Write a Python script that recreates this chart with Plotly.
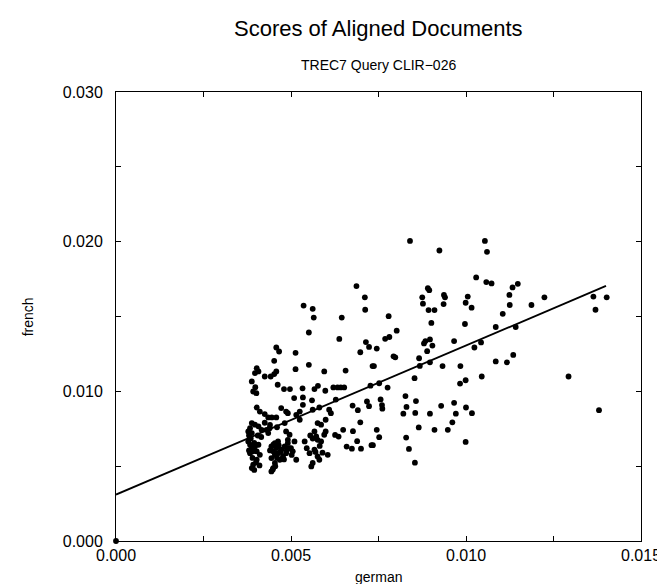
import plotly.graph_objects as go

# german / french scores (in units of 1e-3, converted below)
german_k = [
    # upper left region
    5.36, 5.62, 5.65, 6.45, 5.51, 6.38,
    4.58, 4.66, 4.52, 5.13, 5.13, 5.51, 5.95, 6.56,
    4.02, 4.07, 3.97, 4.25, 4.42, 4.52, 4.58, 3.88,
    3.98, 4.01, 4.62, 4.80, 4.97,
    5.33, 5.67, 5.77, 5.98, 6.21, 6.33, 6.42, 6.52,
    # middle dense region
    5.09, 5.34, 5.60, 5.34, 5.25, 5.15, 5.25,
    5.62, 5.81, 6.09, 6.14, 6.28,
    5.76, 5.86, 5.99,
    5.67, 5.72, 5.76, 5.86, 5.95, 5.99,
    6.26, 6.36, 6.49,
    5.39, 5.53, 5.67, 5.76, 5.81, 5.62, 5.58, 6.05, 5.15,
    5.55, 5.62, 5.82, 5.70, 5.90, 5.45,
    # left dense cluster
    3.92, 4.02, 4.11, 4.25, 4.35, 4.45, 4.58, 4.72, 4.86, 4.91,
    3.88, 3.97, 3.83, 3.78, 3.88, 4.07, 4.16, 4.30, 4.39, 4.35, 4.82, 4.86, 4.96, 4.91,
    3.78, 3.83, 3.88, 3.92, 3.83, 3.97, 4.07, 4.02, 4.11, 4.02, 3.92, 3.88,
    4.44, 4.54, 4.63, 4.58, 4.49, 4.54, 4.44, 4.63, 4.72, 4.82, 4.91, 4.86, 4.77, 4.68,
    4.54, 4.49, 4.44,
    5.00, 5.05, 5.10,
    3.80, 3.85, 3.95, 4.05, 4.15, 3.80, 3.90, 4.00, 4.10, 3.95,
    4.50, 4.40, 4.65, 4.70, 4.60, 4.80, 4.55, 4.48, 4.95, 4.88, 5.02, 4.40, 4.60, 4.25,
    # centre region
    6.87, 7.11, 7.12, 7.79, 8.02, 7.81, 7.69, 7.93, 7.98, 7.45, 7.23, 7.14, 6.98,
    7.33, 7.37, 7.52, 7.27, 7.76, 7.56, 7.60, 7.61, 7.17, 7.23, 6.91, 6.76, 6.98,
    6.77, 7.45, 7.52, 7.30, 7.34, 6.89, 7.00, 6.59, 6.74,
    # right region
    8.40, 9.24, 10.54, 10.60, 10.29, 10.58, 10.73, 11.33, 11.48, 11.24, 11.25, 11.87,
    12.24, 11.05, 10.85, 11.42, 13.64, 14.02, 13.70, 12.93, 13.80, 11.35, 11.17, 10.85,
    10.43, 10.24, 10.45, 10.05, 9.99, 10.16, 9.97, 9.66, 9.84, 9.99, 9.83, 10.00,
    10.17, 9.99, 9.66, 9.71, 9.61, 9.48, 9.29, 9.10, 8.97, 8.65, 8.57, 8.55, 8.53,
    8.27, 8.30, 8.21, 8.29, 8.37, 8.54, 8.66, 8.68, 8.75, 8.77, 8.91, 8.95, 8.93, 9.10,
    9.01, 8.97, 8.84, 8.80, 9.04, 8.89, 8.97, 9.33, 9.37, 9.40, 9.36,
    # origin point
    0.00,
]
french_k = [
    15.73, 15.51, 14.93, 14.93, 13.93, 13.50,
    12.93, 12.66, 12.04, 12.57, 11.48, 11.77, 11.33, 11.39,
    11.55, 11.33, 11.22, 10.99, 10.99, 11.15, 11.33, 10.66,
    10.28, 9.88, 10.44, 10.15, 10.15,
    10.20, 10.15, 10.37, 10.04, 10.26, 10.26, 10.26, 10.26,
    9.55, 9.59, 9.40, 9.10, 8.65, 8.43, 8.10,
    8.77, 8.92, 8.77, 8.54, 9.45,
    7.88, 7.77, 8.10,
    7.32, 6.99, 6.76, 6.65, 7.10, 7.32,
    7.09, 6.98, 7.43,
    6.65, 5.87, 6.10, 5.65, 5.43, 5.21, 4.98, 5.76, 5.43,
    7.05, 6.85, 6.35, 5.95, 5.90, 6.20,
    9.99, 8.92, 8.65, 8.48, 8.26, 8.26, 8.26, 8.88, 8.65, 8.54,
    7.88, 7.77, 7.54, 7.32, 7.21, 7.66, 7.43, 7.43, 7.54, 7.21, 7.88, 7.32, 7.10, 6.76,
    6.65, 6.43, 6.21, 5.99, 5.87, 6.32, 6.43, 5.99, 5.76, 5.43, 5.10, 4.87,
    6.32, 6.54, 6.65, 6.21, 5.99, 5.76, 5.54, 5.87, 6.10, 6.32, 6.54, 5.87, 5.65, 5.43,
    5.21, 4.87, 4.65,
    6.21, 5.99, 6.65,
    7.05, 6.85, 6.55, 7.05, 6.95, 6.05, 5.55, 5.25, 5.05, 4.75,
    6.45, 6.05, 6.40, 5.95, 5.55, 5.45, 5.00, 4.78, 6.20, 6.05, 5.75, 7.75, 7.60, 7.90,
    17.03, 16.28, 15.45, 15.02, 14.05, 13.63, 13.51, 12.34, 12.27, 12.86, 12.97, 13.29, 12.61,
    11.69, 11.69, 10.54, 10.38, 10.25, 9.46, 9.08, 8.84, 9.32, 9.01, 8.74, 9.05, 7.93,
    7.34, 7.43, 6.94, 6.40, 6.40, 6.67, 6.17, 6.31, 6.17,
    20.05, 19.41, 20.05, 19.32, 17.61, 17.30, 17.21, 16.94, 17.18, 16.44, 15.77, 15.77,
    16.28, 15.18, 14.30, 14.30, 16.33, 16.28, 15.45, 10.99, 8.74, 12.43, 11.94, 12.00,
    13.27, 12.93, 10.99, 16.33, 15.92, 15.59, 14.50, 13.36, 11.69, 10.74, 10.52, 8.92,
    8.54, 6.62, 9.23, 8.51, 7.93, 7.43, 9.03, 7.43, 8.51, 7.59, 9.35, 8.56, 10.88,
    9.68, 8.96, 8.51, 6.91, 6.15, 5.23, 12.21, 11.70, 16.28, 15.86, 16.89, 16.76, 15.43, 15.43,
    14.57, 13.47, 13.36, 13.20, 13.06, 12.68, 11.94, 11.69, 16.44, 16.28, 15.83,
    0.00,
]

german = [v / 1000 for v in german_k]
french = [v / 1000 for v in french_k]

# regression line
fit_intercept = 0.0031
fit_slope = 0.996
fit_x = [0.0, 0.014]
fit_y = [fit_intercept + fit_slope * x for x in fit_x]

x_ticks = [0.000, 0.005, 0.010, 0.015]
y_ticks = [0.000, 0.010, 0.020, 0.030]

title_text = "Scores of Aligned Documents"
subtitle_text = "TREC7 Query CLIR\u2212026"
x_title = "german"
y_title = "french"

FONT = "Liberation Sans, Arial, Helvetica, sans-serif"

fig = go.Figure()
fig.add_trace(go.Scatter(
    x=german, y=french, mode="markers",
    marker=dict(color="black", size=5.8),
    cliponaxis=False, showlegend=False, hoverinfo="skip",
))
fig.add_trace(go.Scatter(
    x=fit_x, y=fit_y, mode="lines",
    line=dict(color="black", width=1.8),
    showlegend=False, hoverinfo="skip",
))

axis_common = dict(
    showline=True, linecolor="black", linewidth=1, mirror="ticks",
    ticks="inside", ticklen=5, tickcolor="black", tickwidth=1,
    showgrid=False, zeroline=False, tickformat=".3f",
    tickfont=dict(family=FONT, size=16, color="black"),
)

fig.update_xaxes(
    range=[0, 0.015], tickvals=x_ticks,
    minor=dict(dtick=0.0025, ticks="inside", ticklen=5, tickcolor="black", showgrid=False),
    ticklabelstandoff=0,
    **axis_common,
)
fig.update_yaxes(
    range=[0, 0.030], tickvals=y_ticks,
    minor=dict(dtick=0.005, ticks="inside", ticklen=5, tickcolor="black", showgrid=False),
    ticklabelstandoff=9,
    **axis_common,
)

fig.update_layout(
    width=665, height=584,
    margin=dict(l=108, r=25, t=84, b=51),
    paper_bgcolor="white", plot_bgcolor="white",
    font=dict(family=FONT, color="black"),
    annotations=[
        dict(text=title_text, xref="paper", yref="paper", x=0.5, y=1.142,
             xanchor="center", yanchor="middle", showarrow=False,
             font=dict(family=FONT, size=22, color="black")),
        dict(text=subtitle_text, xref="paper", yref="paper", x=0.5, y=1.060,
             xanchor="center", yanchor="middle", showarrow=False,
             font=dict(family=FONT, size=14, color="black")),
        dict(text=x_title, xref="paper", yref="paper", x=0.5, y=-0.080,
             xanchor="center", yanchor="middle", showarrow=False,
             font=dict(family=FONT, size=14, color="black")),
        dict(text=y_title, xref="paper", yref="paper", x=-0.168, y=0.5,
             xanchor="center", yanchor="middle", showarrow=False, textangle=-90,
             font=dict(family=FONT, size=14, color="black")),
    ],
)

fig.write_html("out.html")
